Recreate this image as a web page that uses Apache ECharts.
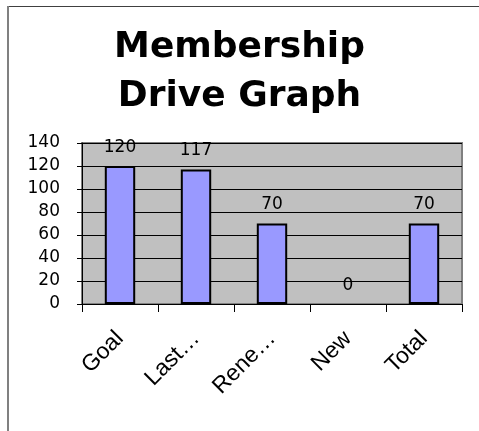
<!DOCTYPE html>
<html>
<head>
<meta charset="utf-8">
<script src="https://cdn.jsdelivr.net/npm/echarts@6/dist/echarts.min.js"></script>
<style>html,body{margin:0;padding:0;background:#fff;}#c{width:479px;height:431px;}</style>
</head>
<body>
<div id="c"></div>
<script>
var titleText = 'Membership\nDrive Graph';
var categories = ['Goal', 'Last\u2026', 'Rene\u2026', 'New', 'Total'];
var values = [120, 117, 70, 0, 70];
var yTicks = [0, 20, 40, 60, 80, 100, 120, 140];

var chart = echarts.init(document.getElementById('c'), null, {renderer: 'canvas'});
var font = '"DejaVu Sans", sans-serif';
var xfont = '"Liberation Sans", Arial, sans-serif';
var barData = values.map(function (v) {
  return v === 0 ? {value: v, itemStyle: {borderWidth: 0}} : v;
});
chart.setOption({
  animation: false,
  backgroundColor: '#fff',
  title: {
    text: titleText,
    left: 'center',
    top: 18,
    textStyle: {fontFamily: font, fontSize: 36, fontWeight: 'bold', color: '#000', lineHeight: 49}
  },
  graphic: [
    {type: 'line', shape: {x1: 7, y1: 6.5, x2: 479, y2: 6.5}, style: {stroke: '#404040', lineWidth: 1}, z: 10},
    {type: 'line', shape: {x1: 8, y1: 6, x2: 8, y2: 431}, style: {stroke: '#808080', lineWidth: 2}, z: 10}
  ],
  grid: {left: 82, right: 17, top: 143, bottom: 127, show: true, backgroundColor: '#C0C0C0', borderColor: '#808080', borderWidth: 2},
  xAxis: {
    type: 'category',
    data: categories,
    axisLine: {lineStyle: {color: '#000', width: 1}},
    axisTick: {show: true, length: 8, lineStyle: {color: '#000'}},
    axisLabel: {rotate: 45, fontFamily: xfont, fontSize: 23, color: '#000', margin: 31, interval: 0}
  },
  yAxis: {
    type: 'value',
    min: yTicks[0],
    max: yTicks[yTicks.length - 1],
    interval: 20,
    axisLine: {show: true, lineStyle: {color: '#000', width: 1}},
    axisTick: {show: true, length: 5, lineStyle: {color: '#000'}},
    axisLabel: {fontFamily: font, fontSize: 17, color: '#000', margin: 22},
    splitLine: {show: true, lineStyle: {color: '#000', width: 1}}
  },
  series: [{
    type: 'bar',
    data: barData,
    barWidth: '40%',
    itemStyle: {color: '#9999FF', borderColor: '#000', borderWidth: 2},
    label: {show: true, position: 'top', distance: 10, fontFamily: font, fontSize: 17, color: '#000'}
  }]
});
</script>
</body>
</html>
